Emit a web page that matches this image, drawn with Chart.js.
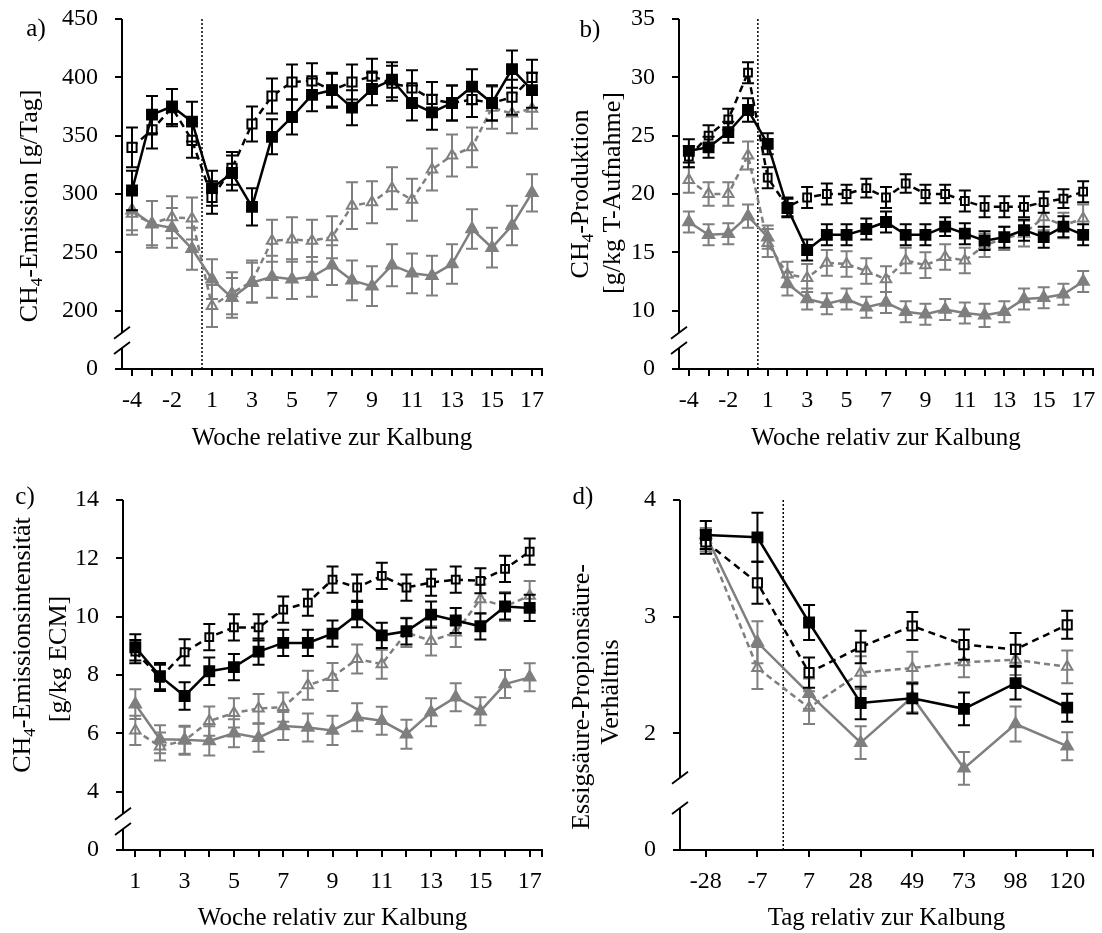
<!DOCTYPE html>
<html>
<head>
<meta charset="utf-8">
<title>CH4 Kalbung</title>
<script src="https://cdn.jsdelivr.net/npm/chart.js@4.4.1/dist/chart.umd.min.js"></script>
<style>
body{margin:0;background:#ffffff;}
#wrap{position:relative;width:1102px;height:933px;overflow:hidden;}
canvas{position:absolute;}
</style>
</head>
<body>
<div id="wrap">
<canvas id="chartA" width="551" height="453" style="left:0px;top:0px;width:551px;height:453px"></canvas>
<canvas id="chartB" width="551" height="453" style="left:551px;top:0px;width:551px;height:453px"></canvas>
<canvas id="chartC" width="551" height="480" style="left:0px;top:453px;width:551px;height:480px"></canvas>
<canvas id="chartD" width="551" height="480" style="left:551px;top:453px;width:551px;height:480px"></canvas>
</div>
<script>

// ==========================
// DATA
// ==========================

const weeksAB = ["-4","-3","-2","-1","1","2","3","4","5","6","7","8","9","10","11","12","13","14","15","16","17"];
const weeksC = ["1","2","3","4","5","6","7","8","9","10","11","12","13","14","15","16","17"];
const daysD = ["-28","-7","7","28","49","73","98","120"];

// a) CH4-Emission [g/Tag]
const aSqFill = [303,368,375,362,305,318,289,349,366,385,389,374,390,398,378,370,378,392,378,407,389];
const aSqFillErr = [17,16,15,17,15,15,16,15,15,14,14,15,14,15,15,15,15,15,15,16,15];
const aSqOpen = [340,355,374,346,297,322,360,384,396,397,389,396,401,395,391,381,378,381,378,383,400];
const aSqOpenErr = [17,16,16,15,14,14,15,15,15,15,15,15,15,15,15,15,15,15,15,15,15];
const aTriFill = [286,274,271,253,227,211,224,229,227,229,239,226,221,239,232,230,240,270,254,273,301];
const aTriFillErr = [17,20,17,18,17,17,17,18,17,17,17,17,17,18,17,17,17,17,17,17,16];
const aTriOpen = [283,275,280,279,204,215,225,260,261,260,263,290,293,305,295,321,333,340,374,369,373];
const aTriOpenErr = [18,19,18,18,18,18,18,18,19,18,18,20,18,18,18,18,18,17,18,17,17];

// b) CH4-Produktion [g/kg T-Aufnahme]
const bSqFill = [23.7,24.0,25.3,27.2,24.3,18.8,15.2,16.5,16.5,17.0,17.6,16.5,16.5,17.2,16.6,16.0,16.3,16.9,16.3,17.2,16.5];
const bSqFillErr = [1.0,0.9,0.9,1.0,0.9,0.8,0.9,0.9,0.9,0.9,0.9,0.9,0.9,0.8,0.9,0.8,0.9,0.9,0.9,0.9,0.9];
const bSqOpen = [23.2,25.0,26.4,30.4,21.4,18.9,19.7,20.0,20.0,20.5,19.7,20.9,20.0,20.0,19.4,18.9,18.9,18.9,19.3,19.6,20.2];
const bSqOpenErr = [0.9,0.9,0.9,0.9,0.9,0.8,0.9,0.9,0.8,0.8,0.9,0.8,0.8,0.8,0.9,0.9,0.9,0.9,0.9,0.8,0.9];
const bTriFill = [17.6,16.5,16.6,18.1,16.3,12.3,11.0,10.6,11.0,10.3,10.7,9.9,9.7,10.1,9.8,9.6,9.9,11.0,11.1,11.4,12.5];
const bTriFillErr = [0.9,0.9,0.9,1.0,1.0,1.0,0.9,0.9,0.9,0.9,0.9,0.9,0.9,0.9,0.9,1.0,0.9,0.9,0.9,0.9,0.9];
const bTriOpen = [21.2,20.0,20.0,23.3,15.8,13.1,12.8,14.1,14.0,13.4,12.7,14.3,13.9,14.6,14.3,15.6,16.2,16.6,18.0,17.3,17.9];
const bTriOpenErr = [1.1,1.0,1.0,1.2,1.2,1.1,1.2,1.1,1.1,1.1,1.1,1.1,1.1,1.1,1.1,1.0,1.0,1.1,1.1,1.1,1.2];

// c) CH4-Emissionsintensität [g/kg ECM]
const cSqFill = [8.95,7.96,7.28,8.13,8.27,8.8,9.1,9.1,9.42,10.07,9.36,9.5,10.07,9.87,9.67,10.35,10.3];
const cSqFillErr = [0.45,0.45,0.47,0.47,0.45,0.45,0.45,0.45,0.45,0.43,0.43,0.45,0.45,0.43,0.45,0.45,0.45];
const cSqOpen = [8.8,7.9,8.78,9.3,9.63,9.63,10.24,10.48,11.27,11.0,11.4,11.0,11.17,11.27,11.23,11.64,12.23];
const cSqOpenErr = [0.4,0.45,0.45,0.45,0.45,0.45,0.45,0.45,0.45,0.45,0.45,0.45,0.45,0.45,0.43,0.45,0.45];
const cTriFill = [7.0,5.8,5.78,5.74,6.0,5.85,6.25,6.2,6.1,6.55,6.43,5.97,6.72,7.24,6.76,7.69,7.92];
const cTriFillErr = [0.51,0.48,0.48,0.5,0.48,0.48,0.48,0.48,0.5,0.48,0.48,0.5,0.48,0.48,0.48,0.48,0.48];
const cTriOpen = [6.1,5.55,5.75,6.42,6.7,6.85,6.9,7.65,7.93,8.55,8.37,9.46,9.17,9.46,10.6,10.35,10.72];
const cTriOpenErr = [0.5,0.48,0.48,0.5,0.5,0.5,0.5,0.5,0.48,0.5,0.5,0.5,0.5,0.5,0.5,0.5,0.5];

// d) Essigsäure-Propionsäure-Verhältnis
const dSqFill = [3.70,3.68,2.95,2.26,2.30,2.21,2.43,2.22];
const dSqFillErr = [0.12,0.21,0.15,0.14,0.13,0.14,0.14,0.12];
const dSqOpen = [3.64,3.29,2.52,2.74,2.92,2.76,2.72,2.93];
const dSqOpenErr = [0.1,0.18,0.13,0.14,0.12,0.13,0.14,0.12];
const dTriFill = [3.70,2.78,2.34,1.92,2.31,1.70,2.08,1.89];
const dTriFillErr = [0.12,0.18,0.13,0.14,0.13,0.14,0.15,0.12];
const dTriOpen = [3.66,2.56,2.22,2.52,2.56,2.61,2.63,2.57];
const dTriOpenErr = [0.1,0.18,0.14,0.14,0.14,0.13,0.13,0.14];

// ==========================
// STYLE
// ==========================

const FONT = '"Liberation Serif", "Times New Roman", serif';
const BLACK = "#000000";
const GREY = "#7f7f7f";

function series(values, errors, kind, openRadius){

    let s;

    if(kind === "sqFill"){
        s = {color: BLACK, style: "rect", fill: BLACK, dash: [], r: 7};
    }else if(kind === "sqOpen"){
        s = {color: BLACK, style: "rect", fill: "#ffffff", dash: [7,5], r: openRadius};
    }else if(kind === "triFill"){
        s = {color: GREY, style: "triangle", fill: GREY, dash: [], r: 6.5};
    }else{
        s = {color: GREY, style: "triangle", fill: "#ffffff", dash: [6,4], r: 6};
    }

    return {
        data: values,
        errors: errors,
        borderColor: s.color,
        borderWidth: 2.5,
        borderDash: s.dash,
        pointStyle: s.style,
        pointRadius: s.r,
        pointBackgroundColor: s.fill,
        pointBorderColor: s.color,
        pointBorderWidth: 2,
        tension: 0,
        fill: false
    };

}

// ==========================
// ERROR BARS
// ==========================

const errorBars = {

    id: "errorBars",

    afterDatasetDraw(chart, args){

        const ds = chart.data.datasets[args.index];
        if(!ds.errors) return;

        const ctx = chart.ctx;
        const y = chart.scales.y;

        ctx.save();
        ctx.strokeStyle = ds.borderColor;
        ctx.lineWidth = 2;
        ctx.setLineDash([]);

        args.meta.data.forEach((pt, i) => {

            const top = y.getPixelForValue(ds.data[i] + ds.errors[i]);
            const bot = y.getPixelForValue(ds.data[i] - ds.errors[i]);

            ctx.beginPath();
            ctx.moveTo(pt.x, top);
            ctx.lineTo(pt.x, bot);
            ctx.moveTo(pt.x - 6, top);
            ctx.lineTo(pt.x + 6, top);
            ctx.moveTo(pt.x - 6, bot);
            ctx.lineTo(pt.x + 6, bot);
            ctx.stroke();

        });

        ctx.restore();

    }

};

// ==========================
// AXIS BREAK, CALVING LINE, TITLES
// ==========================

function drawVertical(ctx, parts, cx, cy, size){

    const big = size + "px " + FONT;
    const small = Math.round(size * 0.65) + "px " + FONT;

    ctx.save();
    ctx.translate(cx, cy);
    ctx.rotate(-Math.PI / 2);
    ctx.textBaseline = "middle";
    ctx.fillStyle = BLACK;

    let total = 0;
    parts.forEach(p => {
        ctx.font = p[1] ? small : big;
        total += ctx.measureText(p[0]).width;
    });

    let pos = -total / 2;
    parts.forEach(p => {
        ctx.font = p[1] ? small : big;
        ctx.fillText(p[0], pos, p[1] ? size * 0.3 : 0);
        pos += ctx.measureText(p[0]).width;
    });

    ctx.restore();

}

function makeFrame(info){

    return {

        id: "frame",

        beforeDatasetsDraw(chart){

            if(info.calving === null) return;

            const ctx = chart.ctx;
            const area = chart.chartArea;
            const xc = chart.scales.x.getPixelForValue(info.calving);

            ctx.save();
            ctx.strokeStyle = BLACK;
            ctx.lineWidth = 1.5;
            ctx.setLineDash([2,2]);
            ctx.beginPath();
            ctx.moveTo(xc, area.top);
            ctx.lineTo(xc, area.bottom);
            ctx.stroke();
            ctx.restore();

        },

        afterDraw(chart){

            const ctx = chart.ctx;
            const area = chart.chartArea;
            const y = chart.scales.y;

            const x0 = area.left;
            const yb = y.getPixelForValue(info.min);
            const yt = y.getPixelForValue(info.min + info.step);
            const yu = yb - 0.62 * (yb - yt);
            const yl = yb - 0.36 * (yb - yt);

            ctx.save();
            ctx.strokeStyle = BLACK;
            ctx.lineWidth = 2;

            // broken y axis
            ctx.beginPath();
            ctx.moveTo(x0, area.top);
            ctx.lineTo(x0, yu);
            ctx.moveTo(x0, yl);
            ctx.lineTo(x0, yb);
            ctx.stroke();

            ctx.lineWidth = 1.8;
            ctx.beginPath();
            [yu, yl].forEach(c => {
                ctx.moveTo(x0 - 8, c + 6);
                ctx.lineTo(x0 + 8, c - 6);
            });
            ctx.stroke();

            // end tick of x axis
            ctx.lineWidth = 2;
            ctx.beginPath();
            ctx.moveTo(area.right, yb);
            ctx.lineTo(area.right, yb + 7);
            ctx.stroke();

            ctx.restore();

            info.titles.forEach(t => {
                drawVertical(ctx, t.parts, t.x, t.y, 26);
            });

            ctx.save();
            ctx.fillStyle = BLACK;
            ctx.font = "25px " + FONT;
            ctx.textAlign = "center";
            ctx.textBaseline = "middle";
            ctx.fillText(info.label.text, info.label.x, info.label.y);
            ctx.restore();

        }

    };

}

// ==========================
// CHART
// ==========================

function makeChart(cfg){

    new Chart(document.getElementById(cfg.id), {

        type: "line",

        data: {
            labels: cfg.labels,
            datasets: cfg.series
        },

        options: {

            responsive: false,
            animation: false,
            events: [],

            layout: {
                padding: {top: cfg.top, right: cfg.right, left: 0, bottom: 0}
            },

            plugins: {
                legend: {display: false},
                tooltip: {enabled: false}
            },

            scales: {

                x: {
                    type: "category",
                    offset: true,
                    grid: {offset: false, drawOnChartArea: false, tickLength: 7, color: BLACK, lineWidth: 2},
                    border: {display: true, color: BLACK, width: 2},
                    ticks: {
                        autoSkip: false,
                        maxRotation: 0,
                        padding: 10,
                        color: BLACK,
                        font: {family: FONT, size: 24},
                        callback: function(value, index){
                            return index % cfg.every === 0 ? this.getLabelForValue(value) : "";
                        }
                    },
                    title: {display: true, text: cfg.xTitle, color: BLACK, font: {family: FONT, size: 25}, padding: 0},
                    afterFit: function(scale){
                        scale.height = cfg.xHeight;
                        scale.paddingLeft = 0;
                        scale.paddingRight = 0;
                    }
                },

                y: {
                    min: cfg.min,
                    max: cfg.max,
                    grid: {drawOnChartArea: false, tickLength: 7, color: BLACK, lineWidth: 2},
                    border: {display: false},
                    ticks: {
                        stepSize: cfg.step,
                        padding: 17,
                        color: BLACK,
                        font: {family: FONT, size: 24},
                        callback: function(value){
                            return value === cfg.min ? "0" : value;
                        }
                    },
                    afterFit: function(scale){
                        scale.width = cfg.yWidth;
                        scale.paddingTop = 0;
                        scale.paddingBottom = 0;
                    }
                }

            }

        },

        plugins: [errorBars, makeFrame(cfg)]

    });

}

// ==========================
// PANELS
// ==========================

makeChart({
    id: "chartA",
    labels: weeksAB,
    series: [
        series(aSqFill, aSqFillErr, "sqFill"),
        series(aSqOpen, aSqOpenErr, "sqOpen", 6.5),
        series(aTriFill, aTriFillErr, "triFill"),
        series(aTriOpen, aTriOpenErr, "triOpen")
    ],
    min: 150, max: 450, step: 50, every: 2,
    yWidth: 122, top: 19, right: 9, xHeight: 84,
    calving: 3.5,
    xTitle: "Woche relative zur Kalbung",
    titles: [
        {parts: [["CH",0],["4",1],["-Emission [g/Tag]",0]], x: 30, y: 206}
    ],
    label: {text: "a)", x: 36, y: 29}
});

makeChart({
    id: "chartB",
    labels: weeksAB,
    series: [
        series(bSqFill, bSqFillErr, "sqFill"),
        series(bSqOpen, bSqOpenErr, "sqOpen", 5.5),
        series(bTriFill, bTriFillErr, "triFill"),
        series(bTriOpen, bTriOpenErr, "triOpen")
    ],
    min: 5, max: 35, step: 5, every: 2,
    yWidth: 128, top: 19, right: 4, xHeight: 84,
    calving: 3.5,
    xTitle: "Woche relativ zur Kalbung",
    titles: [
        {parts: [["CH",0],["4",1],["-Produktion",0]], x: 30, y: 194},
        {parts: [["[g/kg T-Aufnahme]",0]], x: 62, y: 193}
    ],
    label: {text: "b)", x: 39, y: 30}
});

makeChart({
    id: "chartC",
    labels: weeksC,
    series: [
        series(cSqFill, cSqFillErr, "sqFill"),
        series(cSqOpen, cSqOpenErr, "sqOpen", 5.5),
        series(cTriFill, cTriFillErr, "triFill"),
        series(cTriOpen, cTriOpenErr, "triOpen")
    ],
    min: 2, max: 14, step: 2, every: 2,
    yWidth: 123, top: 47, right: 7, xHeight: 83,
    calving: null,
    xTitle: "Woche relativ zur Kalbung",
    titles: [
        {parts: [["CH",0],["4",1],["-Emissionsintensität",0]], x: 23, y: 192},
        {parts: [["[g/kg ECM]",0]], x: 59, y: 206}
    ],
    label: {text: "c)", x: 25, y: 44}
});

makeChart({
    id: "chartD",
    labels: daysD,
    series: [
        series(dSqFill, dSqFillErr, "sqFill"),
        series(dSqOpen, dSqOpenErr, "sqOpen", 6.5),
        series(dTriFill, dTriFillErr, "triFill"),
        series(dTriOpen, dTriOpenErr, "triOpen")
    ],
    min: 1, max: 4, step: 1, every: 1,
    yWidth: 129, top: 47, right: 3, xHeight: 83,
    calving: 1.5,
    xTitle: "Tag relativ zur Kalbung",
    titles: [
        {parts: [["Essigsäure-Propionsäure-",0]], x: 31, y: 244},
        {parts: [["Verhältnis",0]], x: 60, y: 239}
    ],
    label: {text: "d)", x: 32, y: 44}
});

</script>
</body>
</html>
